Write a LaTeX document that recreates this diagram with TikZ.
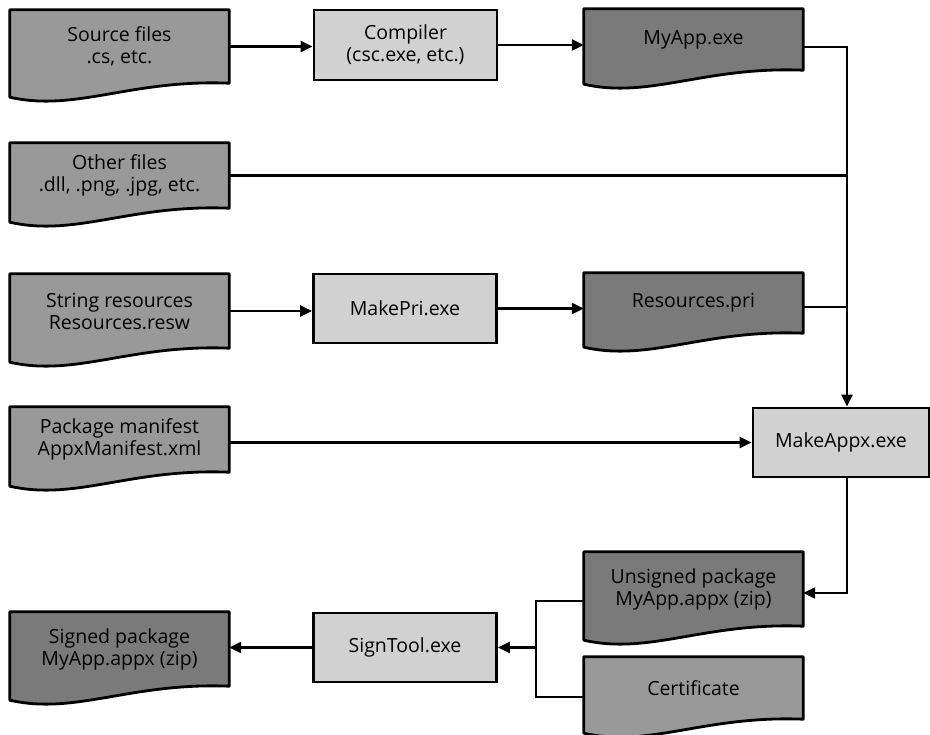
\documentclass[tikz,border=0pt]{standalone}
\usepackage{fontspec}
\setmainfont{Open Sans}
\usetikzlibrary{arrows.meta,backgrounds}
\definecolor{docdark}{gray}{0.48}
\definecolor{docmid}{gray}{0.60}
\definecolor{proclight}{gray}{0.82}
\tikzset{
  base/.style={inner sep=0pt, align=center, font=\fontsize{19.5}{22}\selectfont},
  docbox/.style={base, minimum width=219pt},
  procbox/.style={base, draw=black, line width=2.8pt, fill=proclight, minimum width=183pt},
  flow/.style={line width=2.3pt, -{Triangle[length=12pt,width=11pt]}},
  link/.style={line width=2.3pt},
}
\newcommand{\docoutline}[2]{%
  \filldraw[fill=#2, draw=black, line width=2.8pt, line join=round]
    (#1.north west) -- (#1.north east) -- (#1.south east)
    .. controls +(-99,-4) and +(66,15) .. ([yshift=-14pt]#1.south west) -- cycle;}
\begin{document}
\begin{tikzpicture}[x=1pt,y=-1pt]
\useasboundingbox (0,0) rectangle (930,735);

% input documents
\node[docbox, minimum height=73pt] (src)   at (119.5,46.5)  {Source files\\.cs, etc.};
\node[docbox, minimum height=65pt] (other) at (119.5,175.5) {Other files\\.dll, .png, .jpg, etc.};
\node[docbox, minimum height=74pt] (str)   at (119.5,311)   {String resources\\Resources.resw};
\node[docbox, minimum height=65pt] (man)   at (119.5,439.5) {Package manifest\\AppxManifest.xml};
\node[docbox, minimum height=74pt] (signed) at (119.5,649)  {Signed package\\MyApp.appx (zip)};

% tools
\node[procbox, minimum height=70pt] (comp)  at (405.5,45)    {Compiler\\(csc.exe, etc.)};
\node[procbox, minimum height=69pt] (mkpri) at (405,308.5)   {MakePri.exe};
\node[procbox, minimum height=69pt] (sign)  at (405,647.5)   {SignTool.exe};
\node[procbox, minimum height=69pt, minimum width=176pt] (appx) at (841,442.5) {MakeAppx.exe};

% generated documents
\node[docbox, minimum height=61pt] (myapp)    at (693.5,39.5) {\raisebox{-7pt}{MyApp.exe}};
\node[docbox, minimum height=60pt] (pri)      at (693.5,303)  {\raisebox{-7pt}{Resources.pri}};
\node[docbox, minimum height=74pt] (unsigned) at (693.5,589)  {Unsigned package\\MyApp.appx (zip)};
\node[docbox, minimum height=62pt] (cert)     at (693.5,688)  {\raisebox{-4pt}{Certificate}};

\begin{pgfonlayer}{background}
  \docoutline{src}{docmid}
  \docoutline{other}{docmid}
  \docoutline{str}{docmid}
  \docoutline{man}{docmid}
  \docoutline{cert}{docmid}
  \docoutline{myapp}{docdark}
  \docoutline{pri}{docdark}
  \docoutline{unsigned}{docdark}
  \docoutline{signed}{docdark}
\end{pgfonlayer}

% collecting bus into MakeAppx and the signing join
\coordinate (bus) at (847,47);
\coordinate (join) at (536,650);

\draw[flow] (src.east) -- (src.east -| comp.west);
\draw[flow] (comp.east) -- (comp.east -| myapp.west);
\draw[flow] (bus -| myapp.east) -- (bus) -- (bus |- appx.north);
\draw[link] (other.east) -- (other.east -| bus);
\draw[flow] (str.east) -- (str.east -| mkpri.west);
\draw[flow] (mkpri.east) -- (mkpri.east -| pri.west);
\draw[link] ([yshift=-4pt]pri.east) -- ([yshift=-4pt]pri.east -| bus);
\draw[flow] (appx.west -| man.east) -- (appx.west);
\draw[flow] (bus |- appx.south) -- (bus |- 0,593) -- ([yshift=-4pt]unsigned.east);
\draw[link] ([yshift=-12pt]unsigned.west) -- (join |- 0,601) -- (join |- 0,697) -- ([yshift=-9pt]cert.west);
\draw[flow] (join |- sign.east) -- (sign.east);
\draw[flow] (sign.west) -- (sign.west -| signed.east);
\end{tikzpicture}
\end{document}
